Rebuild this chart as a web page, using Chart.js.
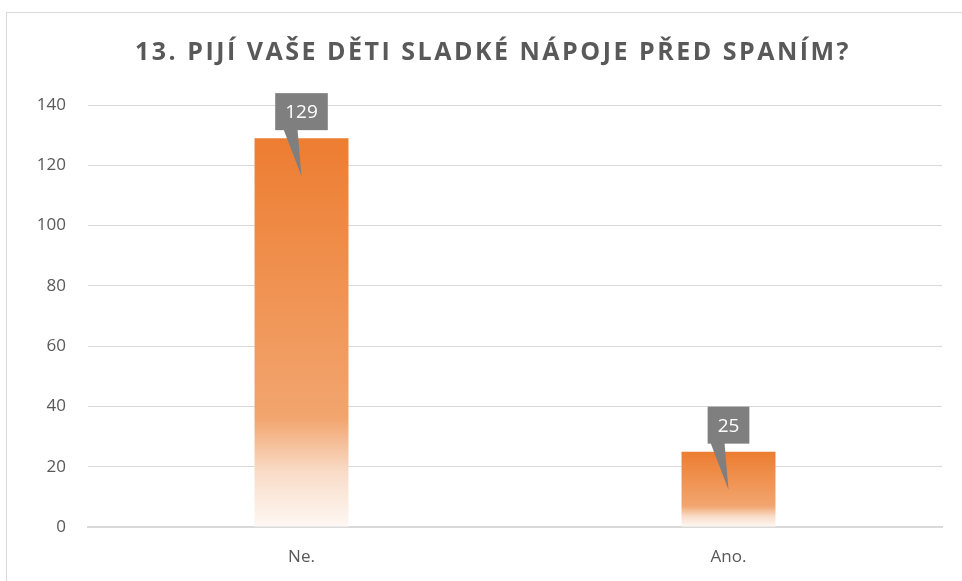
<!DOCTYPE html>
<html>
<head>
<meta charset="utf-8">
<script src="https://cdn.jsdelivr.net/npm/chart.js@4"></script>
<style>
  html, body { margin: 0; padding: 0; background: #fff; overflow: hidden; }
  #frame { position: absolute; left: 6px; top: 12px; width: 1000px; height: 1000px;
           border-left: 1px solid #d9d9d9; border-top: 1px solid #d9d9d9; }
  #wrap { position: absolute; left: 0; top: 0; width: 962px; height: 581px; }
</style>
</head>
<body>
<div id="frame"></div>
<div id="wrap"><canvas id="chart" width="962" height="581"></canvas></div>
<script>
/* data */
const categories = ['Ne.', 'Ano.'];
const values = [129, 25];
const yTicks = [0, 20, 40, 60, 80, 100, 120, 140];
const title = '13. PIJÍ VAŠE DĚTI SLADKÉ NÁPOJE PŘED SPANÍM?';

const textColor = '#595959';

// orange fading to white towards the bottom of each bar
function barGradient(ctx) {
  const chart = ctx.chart;
  if (!chart.chartArea || ctx.dataIndex === undefined) return '#ED7D31';
  const y = chart.scales.y;
  const top = y.getPixelForValue(values[ctx.dataIndex]);
  const bottom = y.getPixelForValue(0);
  const g = chart.ctx.createLinearGradient(0, top, 0, bottom);
  g.addColorStop(0, '#ED7D31');
  g.addColorStop(0.72, '#F2A56F');
  g.addColorStop(0.86, '#F9DCC8');
  g.addColorStop(1, '#FEF8F4');
  return g;
}

// spaced-out bold heading, centred on the frame
const heading = {
  id: 'heading',
  afterDraw(chart) {
    const c = chart.ctx;
    c.save();
    c.font = 'bold 25px "Open Sans", sans-serif';
    c.letterSpacing = '2.5px';
    c.fillStyle = textColor;
    c.textAlign = 'center';
    c.textBaseline = 'middle';
    c.fillText(title, 493, 53);
    c.restore();
  }
};

// grey callout boxes with a pointer down into the bar
const callouts = {
  id: 'callouts',
  afterDatasetsDraw(chart) {
    const c = chart.ctx;
    const meta = chart.getDatasetMeta(0);
    c.save();
    c.font = '19px "Open Sans", sans-serif';
    meta.data.forEach((bar, i) => {
      const txt = String(values[i]);
      const w = c.measureText(txt).width + 20;
      const h = 37;
      const cx = bar.x;
      const bottom = bar.y - 8;
      const left = cx - w / 2;
      c.fillStyle = '#7F7F7F';
      c.fillRect(left, bottom - h, w, h);
      c.beginPath();
      c.moveTo(cx - 18, bottom - 1);
      c.lineTo(cx - 4, bottom - 1);
      c.lineTo(cx, bottom + 46);
      c.closePath();
      c.fill();
      c.fillStyle = '#fff';
      c.textAlign = 'center';
      c.textBaseline = 'middle';
      c.fillText(txt, cx, bottom - h / 2 + 1);
    });
    c.restore();
  }
};

new Chart(document.getElementById('chart'), {
  type: 'bar',
  data: {
    labels: categories,
    datasets: [{
      data: values,
      backgroundColor: barGradient,
      borderWidth: 0,
      barPercentage: 0.22,
      categoryPercentage: 1
    }]
  },
  options: {
    responsive: false,
    animation: false,
    events: [],
    layout: { padding: { left: 0, right: 20, top: 105, bottom: 0 } },
    plugins: {
      legend: { display: false },
      tooltip: { enabled: false },
      title: { display: false }
    },
    scales: {
      x: {
        grid: { display: false, drawTicks: false },
        border: { display: true, color: '#d9d9d9', width: 2 },
        ticks: { color: textColor, font: { family: '"Open Sans", sans-serif', size: 17 }, padding: 20 },
        afterFit(s) { s.height = 54; }
      },
      y: {
        min: 0,
        max: 140,
        afterBuildTicks(s) { s.ticks = yTicks.map(v => ({ value: v })); },
        grid: { color: '#d9d9d9', drawTicks: false },
        border: { display: false },
        ticks: { color: textColor, font: { family: '"Open Sans", sans-serif', size: 17 }, padding: 22 },
        afterFit(s) { s.width = 88; }
      }
    }
  },
  plugins: [callouts, heading]
});
</script>
</body>
</html>
